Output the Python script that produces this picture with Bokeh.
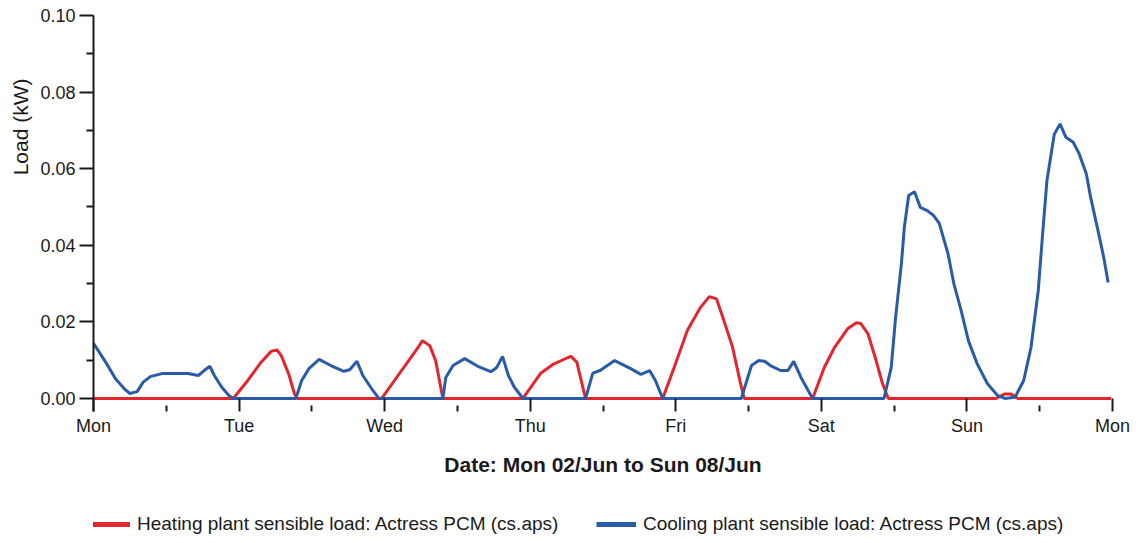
from bokeh.plotting import figure
from bokeh.layouts import column
from bokeh.models import (FixedTicker, Legend, LegendItem, Title, Range1d,
                          PrintfTickFormatter)
from bokeh.embed import file_html
from bokeh.resources import INLINE

# ---- data (days since Mon 02/Jun 00:00, load in kW) ----
day_ticks = [0, 1, 2, 3, 4, 5, 6, 7]
day_labels = ["Mon", "Tue", "Wed", "Thu", "Fri", "Sat", "Sun", "Mon"]
half_days = [0.5, 1.5, 2.5, 3.5, 4.5, 5.5, 6.5]
load_ticks = [0.0, 0.02, 0.04, 0.06, 0.08, 0.10]
load_minor = [0.01, 0.03, 0.05, 0.07, 0.09]

heat_day = [0.0, 0.96, 1.06, 1.15, 1.22, 1.26, 1.29, 1.34, 1.38, 1.40,
            1.98, 2.12, 2.22, 2.26, 2.31, 2.35, 2.40,
            2.95, 3.07, 3.16, 3.26, 3.28, 3.32, 3.38,
            3.91, 3.99, 4.08, 4.17, 4.23, 4.28, 4.33, 4.39, 4.44, 4.47,
            4.94, 5.02, 5.09, 5.18, 5.24, 5.27, 5.32, 5.37, 5.42, 5.46,
            6.20, 6.26, 6.30, 6.35, 6.99]
heat_load = [0.0, 0.0, 0.0047, 0.0094, 0.0123, 0.0127, 0.0112, 0.0065, 0.0013, 0.0,
             0.0, 0.0075, 0.0128, 0.0151, 0.0138, 0.0099, 0.0,
             0.0, 0.0065, 0.0090, 0.0107, 0.0110, 0.0095, 0.0,
             0.0, 0.0082, 0.0178, 0.0238, 0.0266, 0.0260, 0.0204, 0.0134, 0.0047, 0.0,
             0.0, 0.0081, 0.0133, 0.0182, 0.0198, 0.0196, 0.0169, 0.0107, 0.0039, 0.0,
             0.0, 0.0012, 0.0012, 0.0, 0.0]

cool_day = [0.0, 0.09, 0.15, 0.21, 0.25, 0.30, 0.34, 0.39, 0.47, 0.65, 0.72, 0.76,
            0.80, 0.83, 0.88, 0.93, 0.96,
            1.39, 1.43, 1.48, 1.55, 1.63, 1.72, 1.76, 1.81, 1.85, 1.91, 1.96,
            2.40, 2.42, 2.47, 2.55, 2.64, 2.73, 2.77, 2.81, 2.85, 2.89, 2.95,
            3.38, 3.43, 3.48, 3.58, 3.69, 3.76, 3.82, 3.86, 3.91,
            4.45, 4.52, 4.57, 4.61, 4.65, 4.72, 4.77, 4.81, 4.86, 4.91, 4.94,
            5.43, 5.48, 5.51, 5.55, 5.57, 5.60, 5.64, 5.68, 5.73, 5.77, 5.81,
            5.87, 5.91, 5.96, 6.01, 6.07, 6.14, 6.21, 6.26, 6.33, 6.39, 6.44,
            6.49, 6.52, 6.55, 6.60, 6.64, 6.68, 6.73, 6.77, 6.82, 6.85, 6.90,
            6.94, 6.97]
cool_load = [0.0144, 0.0091, 0.0052, 0.0026, 0.0013, 0.0018, 0.0042, 0.0057, 0.0065,
             0.0065, 0.0060, 0.0073, 0.0084, 0.0060, 0.0030, 0.0008, 0.0,
             0.0, 0.0047, 0.0078, 0.0102, 0.0086, 0.0071, 0.0075, 0.0097, 0.0060,
             0.0026, 0.0,
             0.0, 0.0055, 0.0086, 0.0104, 0.0084, 0.0070, 0.0081, 0.0110, 0.0060,
             0.0030, 0.0,
             0.0, 0.0066, 0.0073, 0.0099, 0.0078, 0.0063, 0.0073, 0.0047, 0.0,
             0.0, 0.0086, 0.0099, 0.0097, 0.0086, 0.0073, 0.0073, 0.0097, 0.0055,
             0.0020, 0.0,
             0.0, 0.0081, 0.0212, 0.0352, 0.0447, 0.0530, 0.0540, 0.0499, 0.0490,
             0.0478, 0.0457, 0.0378, 0.0300, 0.0230, 0.0151, 0.0091, 0.0039,
             0.0008, 0.0, 0.0003, 0.0047, 0.0133, 0.0282, 0.0430, 0.0570, 0.0690,
             0.0717, 0.0682, 0.0669, 0.0640, 0.0587, 0.0525, 0.0439, 0.0368, 0.0303]

heat_name = "Heating plant sensible load: Actress PCM (cs.aps)"
cool_name = "Cooling plant sensible load: Actress PCM (cs.aps)"
x_title = "Date: Mon 02/Jun to Sun 08/Jun"
y_title = "Load (kW)"

RED = "#e3262d"
BLUE = "#2a5ba8"
FONT = "Liberation Sans"
INK = "#1a1a1a"

# ---------------- main chart ----------------
p = figure(width=1136, height=485, output_backend="svg", toolbar_location=None,
           x_range=Range1d(0, 7), y_range=Range1d(-0.0034, 0.10),
           min_border_left=92, min_border_right=24, min_border_top=15,
           min_border_bottom=74)
p.outline_line_color = None
p.xgrid.visible = False
p.ygrid.visible = False

r_heat = p.line(heat_day, heat_load, line_color=RED, line_width=3)
r_cool = p.line(cool_day, cool_load, line_color=BLUE, line_width=3)

# x axis (ticks drawn upward from the frame bottom to the zero line)
xa = p.xaxis[0]
xa.ticker = FixedTicker(ticks=day_ticks, minor_ticks=half_days)
xa.major_label_overrides = {float(t): l for t, l in zip(day_ticks, day_labels)}
xa.axis_line_color = None
xa.major_tick_out = 0
xa.major_tick_in = 13
xa.minor_tick_out = 0
xa.minor_tick_in = 6
xa.major_tick_line_color = INK
xa.minor_tick_line_color = INK
xa.major_tick_line_width = 2
xa.minor_tick_line_width = 2
xa.major_label_text_font = FONT
xa.major_label_text_font_size = "18px"
xa.major_label_text_color = INK
xa.major_label_standoff = 4
xa.axis_label = x_title
xa.axis_label_text_font = FONT
xa.axis_label_text_font_size = "21px"
xa.axis_label_text_font_style = "bold"
xa.axis_label_text_color = INK
xa.axis_label_standoff = 14

# y axis
ya = p.yaxis[0]
ya.ticker = FixedTicker(ticks=load_ticks, minor_ticks=load_minor)
ya.formatter = PrintfTickFormatter(format="%.2f")
ya.axis_line_color = INK
ya.axis_line_width = 2
ya.major_tick_out = 14
ya.major_tick_in = 0
ya.minor_tick_out = 7
ya.minor_tick_in = 0
ya.major_tick_line_color = INK
ya.minor_tick_line_color = INK
ya.major_tick_line_width = 2
ya.minor_tick_line_width = 2
ya.major_label_text_font = FONT
ya.major_label_text_font_size = "18px"
ya.major_label_text_color = INK
ya.major_label_standoff = 4

# y-axis title, placed toward the upper part of the axis as in the reference
ytitle = Title(text=y_title, align="right", offset=63, standoff=12,
               text_font=FONT, text_font_size="21px", text_font_style="normal",
               text_color=INK)
p.add_layout(ytitle, "left")

# ---------------- legend strip ----------------
# The legend strip re-uses the same series, but its view range lies above them,
# so only the legend entries (thicker sample lines) are visible.
# (Its frame is aligned with the chart frame by the column layout.)
q = figure(width=1136, height=58, output_backend="svg", toolbar_location=None,
           x_range=Range1d(0, 7), y_range=Range1d(1, 2),
           min_border=0)
q.outline_line_color = None
q.axis.visible = False
q.grid.visible = False
lg_heat = q.line(heat_day, heat_load, line_color=RED, line_width=5)
lg_cool = q.line(cool_day, cool_load, line_color=BLUE, line_width=5)

legend_style = dict(orientation="horizontal", glyph_width=40, glyph_height=20,
                    label_standoff=7, spacing=0, padding=5, margin=0,
                    border_line_color=None, background_fill_alpha=0,
                    label_text_font=FONT, label_text_font_size="19px",
                    label_text_color=INK)
legend_heat = Legend(items=[LegendItem(label=heat_name, renderers=[lg_heat])],
                     location=(-3, 8), **legend_style)
legend_cool = Legend(items=[LegendItem(label=cool_name, renderers=[lg_cool])],
                     location=(503, 8), **legend_style)
q.add_layout(legend_heat, "center")
q.add_layout(legend_cool, "center")

layout = column(p, q, spacing=0)
open("out.html", "w").write(file_html(layout, INLINE))
